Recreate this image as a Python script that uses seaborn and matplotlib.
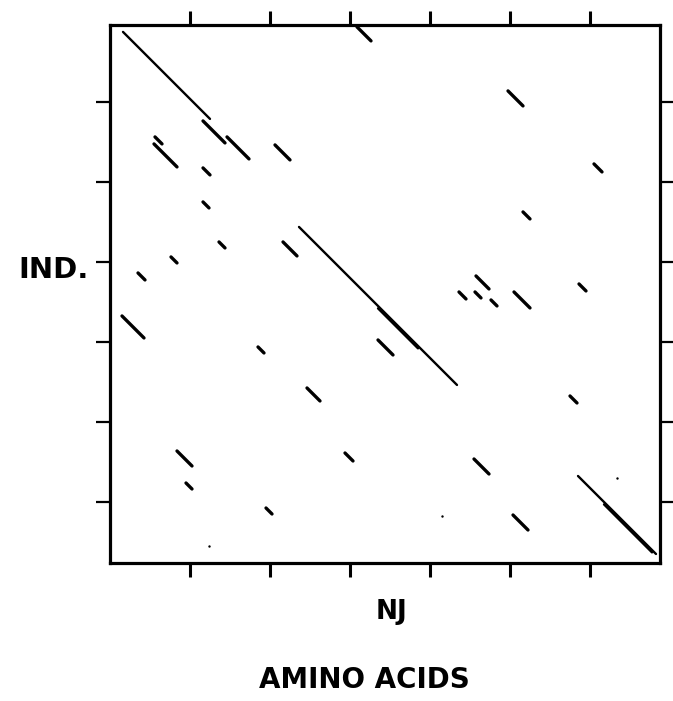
import numpy as np
import pandas as pd
import matplotlib
matplotlib.use("Agg")
import matplotlib.pyplot as plt
import seaborn as sns

# Dot-plot diagonal match segments (x = NJ residue, y = IND. residue, length in residues)
seg_x0 = [3.25, 23.25, 29.25, 11.25, 11.0, 41.25, 23.25, 61.75, 99.5, 121.0,
          23.25, 27.25, 43.25, 47.25, 15.25, 7.0, 3.0, 37.0, 67.0, 103.25,
          91.5, 87.25, 91.25, 95.25, 101.0, 117.25, 49.25, 16.75, 19.0, 58.75,
          39.0, 115.0, 91.0, 117.0, 100.75, 67.0, 123.5]
seg_y0 = [2.5, 24.75, 28.75, 28.75, 30.5, 30.75, 36.5, 1.25, 17.25, 35.5,
          45.0, 55.0, 55.0, 51.25, 58.75, 62.75, 73.5, 81.25, 79.5, 47.5,
          63.5, 67.5, 67.5, 69.5, 67.5, 65.5, 91.5, 107.25, 115.25, 107.75,
          121.5, 93.5, 109.25, 113.5, 123.25, 71.6, 120.6]
seg_len = [21.75, 5.5, 5.5, 1.75, 5.75, 3.75, 1.75, 3.5, 3.75, 2.0,
           1.5, 1.5, 3.5, 39.5, 1.5, 1.75, 5.5, 1.5, 3.75, 1.75,
           3.25, 1.75, 1.5, 1.5, 4.0, 1.75, 3.25, 3.75, 1.5, 2.0,
           1.5, 1.75, 3.75, 19.5, 3.75, 10.0, 12.0]

# Isolated single matches
dot_x = [126.75, 83.0, 24.75]
dot_y = [114.0, 123.5, 131.0]

x_ticks = [20, 40, 60, 80, 100, 120]
y_ticks = [20, 40, 60, 80, 100, 120]

rows = []
for i, (x0, y0, L) in enumerate(zip(seg_x0, seg_y0, seg_len)):
    rows.append({"seg": i, "x": x0, "y": y0, "long": L > 9})
    rows.append({"seg": i, "x": x0 + L, "y": y0 + L, "long": L > 9})
df = pd.DataFrame(rows)
dots = pd.DataFrame({"x": dot_x, "y": dot_y})

sns.set_style("white")
W, H = 673, 701
fig = plt.figure(figsize=(W / 100, H / 100), dpi=100)
ax = fig.add_axes([110 / W, 1 - 563 / H, 550 / W, (563 - 24.7) / H])

sns.lineplot(data=df[df["long"]], x="x", y="y", units="seg", estimator=None, sort=False,
             color="black", linewidth=1.7, solid_capstyle="round", ax=ax,
             legend=False)
sns.lineplot(data=df[~df["long"]], x="x", y="y", units="seg", estimator=None, sort=False,
             color="black", linewidth=2.4, solid_capstyle="round", ax=ax,
             legend=False)
sns.scatterplot(data=dots, x="x", y="y", color="black", s=3, linewidth=0, ax=ax,
                legend=False)

ax.set_xlim(0, 137.5)
ax.set_ylim(135.25, 0.7)
ax.set_xticks(x_ticks)
ax.set_yticks(y_ticks)
ax.set_xlabel("")
ax.set_ylabel("")
ax.tick_params(axis="x", which="both", direction="out", length=10, width=2.2,
               top=True, bottom=True, labelbottom=False, labeltop=False, color="black")
ax.tick_params(axis="y", which="both", direction="out", length=10, width=1.6,
               left=True, right=True, labelleft=False, labelright=False, color="black")
for s in ax.spines.values():
    s.set_visible(True)
    s.set_linewidth(2.3)
    s.set_color("black")

def ftext(px, py, s, size):
    fig.text(px / W, 1 - py / H, s, ha="center", va="center",
             fontsize=size, fontweight="bold", family="DejaVu Sans", color="black")

ftext(54, 270, "IND.", 21)
ftext(392, 612, "NJ", 19)
ftext(364, 680, "AMINO ACIDS", 20)

fig.savefig("out.png", dpi=100, facecolor="white")
